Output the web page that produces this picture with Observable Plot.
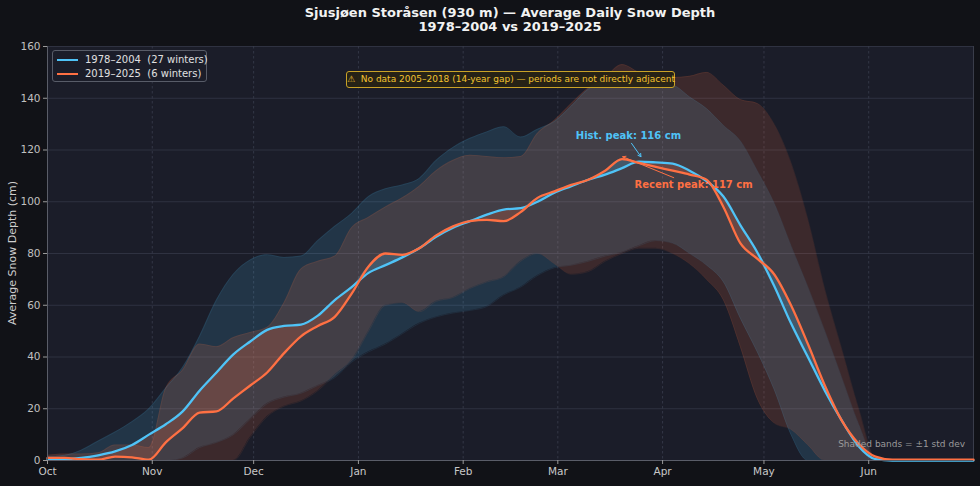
<!DOCTYPE html>
<html><head><meta charset="utf-8">
<script src="https://cdn.jsdelivr.net/npm/d3@7"></script>
<script src="https://cdn.jsdelivr.net/npm/@observablehq/plot@0.6"></script>
<style>
html,body{margin:0;padding:0;background:#111217;}
#wrap{position:relative;width:980px;height:486px;font-family:"DejaVu Sans",sans-serif;overflow:hidden;}
#title{position:absolute;left:40px;top:6px;width:940px;text-align:center;color:#f2f2f2;font-weight:bold;font-size:13px;line-height:14px;}
#chart{position:absolute;left:0;top:40px;}
#ylab{position:absolute;left:12px;top:253px;transform:translate(-50%,-50%) rotate(-90deg);color:#cfcfcf;font-size:11px;white-space:nowrap;}
#legend{position:absolute;left:52px;top:50px;width:153px;height:30px;border:1px solid #585c68;border-radius:3px;background:rgba(27,29,41,0.85);}
.li{position:absolute;left:4px;height:14px;font-size:10px;color:#e0e0e0;white-space:pre;}
.li span.sw{position:absolute;left:0;top:6px;width:21px;height:2.4px;}
.li span.tx{position:absolute;left:28px;top:0;line-height:14px;}
#warn{position:absolute;left:346px;top:71px;width:327px;height:15px;border:1px solid #c9a227;border-radius:3px;background:rgba(40,36,20,0.9);color:#f2c230;font-size:9px;line-height:15px;text-align:center;white-space:pre;}
#note{position:absolute;right:15px;top:439px;color:#9a9a9a;font-size:9px;white-space:nowrap;}
</style></head>
<body><div id="wrap">
<div id="title">Sjusjøen Storåsen (930 m) — Average Daily Snow Depth<br>1978–2004 vs 2019–2025</div>
<div id="chart"></div>
<div id="ylab">Average Snow Depth (cm)</div>
<div id="legend"></div>
<div id="warn">⚠  No data 2005–2018 (14-year gap) — periods are not directly adjacent</div>
<div id="note">Shaded bands = ±1 std dev</div>
</div>
<script>
// ---- data (day = days since 1 Oct) ----
const days = [0,5,10,15,20,25,30,35,40,45,50,55,60,65,70,75,80,85,90,95,100,105,110,115,120,125,130,135,140,145,150,155,160,165,170,175,180,185,190,195,200,205,210,215,220,225,230,235,240,245,250,274];
const histMean = [0.5,0.5,1,2,3.5,6,10,14,19,27,34,41,46,50.5,52,52.5,56,62,67,72.5,75.5,78.5,82,86.5,90,92.5,95,97,97.5,100,103.5,106,108.5,110.5,113,115.5,115.2,114.7,112,108,102,91,80.5,67.5,53,40,27,15.5,5.5,0.5,0,0];
const histHi = [1.5,2,4,7.5,11,15,20,28,36,48,62,72,77.5,79.5,78.5,79,85,90.5,95.5,102,105,106.5,109,116,121,124.5,127,129,125,128,131,137,143.5,146.5,147,146,145.5,145,140.5,136,129.5,123.5,112,99.5,83,67,50,32,14,0.5,0,0];
const histLo = [0,0,0,0,0,0,0,0,1,5,7,10,16,22,24.5,26,29,32,38,42,45,49,53,55.5,57,58,59.5,64,67,71.5,74.5,75.5,77,79,80.5,83,85,84,80,75.5,69,55,42,27.5,10,0,0,0,0,0,0,0];
const recentMean = [1,1,0.5,0.3,1.5,1.2,0.3,7,12.5,18.5,19,24,29,34,41.5,48,52,55.5,64.5,75,80,79.5,82,87,90.5,92.5,93,92.5,96,101.5,104,106.5,108.5,112,116.5,115,113.5,112,110.5,108.5,98,84,78,72,60,45,29,15.5,6.5,1.5,0.3,0.3];
const recentHi = [2,2.5,2.5,3,6,6,5,28,35,45,44,47.5,49.5,51.5,61,74,77,79,90,94,98,101.5,106,112,116,118,117.5,117,117.5,126.5,131.5,138,144,148,153,150,148,148,148.5,150,145,139.5,138,130,115,93,66,43,20,1,0.3,0.3];
const recentLo = [0,0,0,0,0,0,0,0,0,0,0,0,9,17,21,23,27,33,38.7,50,60,61,57.5,61.5,63,66.5,69,71,77,80,76,72,73,77,80,82,82,80,76,70,62,44,24,14.5,12,6,0,0,0,0,0,0];
const monthStarts = [0,31,61,92,123,151,182,212,243];
const monthLabels = ["Oct","Nov","Dec","Jan","Feb","Mar","Apr","May","Jun"];
const yTicks = [0,20,40,60,80,100,120,140,160];
const seriesNames = ["1978–2004  (27 winters)","2019–2025  (6 winters)"];
const seriesColors = ["#4fc3f7","#ff7043"];
// annotations (data coordinates)
const histPeakNote = {text:"Hist. peak: 116 cm", tx:171.9, ty:125.5, x1:172.8, y1:122.6, x2:175.6, y2:117.4};
const recentPeakNote = {text:"Recent peak: 117 cm", tx:173.7, ty:106.5, x1:185.3, y1:109.3, x2:170.2, y2:117.4};

const rows = days.map((d,i)=>({day:d, hm:histMean[i], hHi:histHi[i], hLo:histLo[i], rm:recentMean[i], rHi:recentHi[i], rLo:recentLo[i]}));
const labelByDay = new Map(monthStarts.map((d,i)=>[d,monthLabels[i]]));
const C = "monotone-x";

const chart = Plot.plot({
  width: 980, height: 446,
  marginTop: 6, marginBottom: 26, marginLeft: 47, marginRight: 7,
  style: {background:"transparent", color:"#c4c4c4", fontFamily:"DejaVu Sans, sans-serif", fontSize:"10px"},
  x: {domain:[0,274], label:null},
  y: {domain:[0,160], label:null},
  marks: [
    Plot.frame({fill:"#1b1d29", stroke:"#3a3d4a"}),
    Plot.gridY(yTicks, {stroke:"#2f3241", strokeOpacity:1, strokeWidth:1}),
    Plot.gridX(monthStarts, {stroke:"#3a3d4e", strokeOpacity:1, strokeDasharray:"2.5,2.5", strokeWidth:0.8}),
    Plot.areaY(rows, {x:"day", y1:"hLo", y2:"hHi", fill:seriesColors[0], fillOpacity:0.15, curve:C}),
    Plot.areaY(rows, {x:"day", y1:"rLo", y2:"rHi", fill:seriesColors[1], fillOpacity:0.15, curve:C}),
    Plot.line(rows, {x:"day", y:"hHi", stroke:seriesColors[0], strokeOpacity:0.12, strokeWidth:0.8, curve:C}),
    Plot.line(rows, {x:"day", y:"hLo", stroke:seriesColors[0], strokeOpacity:0.12, strokeWidth:0.8, curve:C}),
    Plot.line(rows, {x:"day", y:"rHi", stroke:seriesColors[1], strokeOpacity:0.12, strokeWidth:0.8, curve:C}),
    Plot.line(rows, {x:"day", y:"rLo", stroke:seriesColors[1], strokeOpacity:0.12, strokeWidth:0.8, curve:C}),
    // difference fill between the means
    Plot.areaY(rows, {x:"day", y1:d=>Math.min(d.hm,d.rm), y2:"hm", fill:seriesColors[1], fillOpacity:0.2, curve:C}),
    Plot.areaY(rows, {x:"day", y1:"hm", y2:d=>Math.max(d.hm,d.rm), fill:seriesColors[0], fillOpacity:0.2, curve:C}),
    Plot.line(rows, {x:"day", y:"hm", stroke:seriesColors[0], strokeWidth:2.3, curve:C}),
    Plot.line(rows, {x:"day", y:"rm", stroke:seriesColors[1], strokeWidth:2.3, curve:C}),
    Plot.ruleY([0], {stroke:"#5a5d68", strokeWidth:1}),
    Plot.ruleX([0], {stroke:"#5a5d68", strokeWidth:1}),
    Plot.axisX(monthStarts, {tickFormat:d=>labelByDay.get(d), tickSize:4, tickPadding:3, stroke:"#9a9a9a", fill:"#c8c8c8", fontSize:10.5, label:null}),
    Plot.axisY(yTicks, {tickSize:4, tickPadding:3, stroke:"#9a9a9a", fill:"#c0c0c0", fontSize:10.5, label:null}),
    Plot.arrow([histPeakNote], {x1:"x1", y1:"y1", x2:"x2", y2:"y2", stroke:seriesColors[0], strokeWidth:1, headLength:5}),
    Plot.arrow([recentPeakNote], {x1:"x1", y1:"y1", x2:"x2", y2:"y2", stroke:seriesColors[1], strokeWidth:1, headLength:5}),
    Plot.text([histPeakNote], {x:"tx", y:"ty", text:"text", fill:seriesColors[0], fontWeight:"bold", fontSize:10, textAnchor:"middle"}),
    Plot.text([recentPeakNote], {x:"tx", y:"ty", text:"text", fill:seriesColors[1], fontWeight:"bold", fontSize:10, textAnchor:"start"})
  ]
});
document.getElementById("chart").appendChild(chart);

const lg = document.getElementById("legend");
seriesNames.forEach((n,i)=>{
  const d = document.createElement("div");
  d.className = "li";
  d.style.top = (2 + i*14) + "px";
  d.innerHTML = `<span class="sw" style="background:${seriesColors[i]}"></span><span class="tx">${n}</span>`;
  lg.appendChild(d);
});
</script>
</body></html>
